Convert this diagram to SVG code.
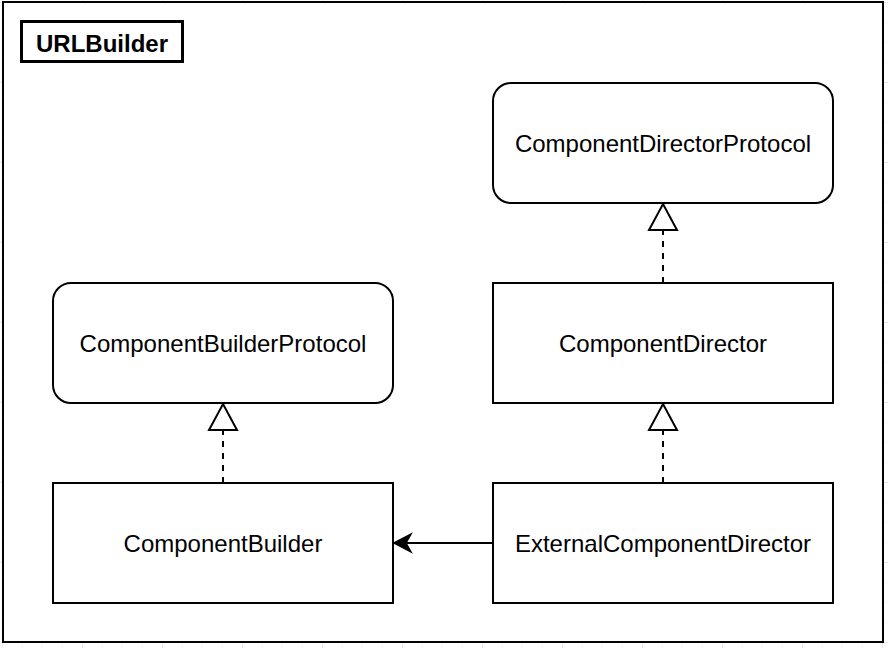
<svg xmlns="http://www.w3.org/2000/svg" width="888" height="648" viewBox="0 0 888 648">
  <defs>
    <pattern id="gridMinor" x="2" y="2" width="20" height="20" patternUnits="userSpaceOnUse">
      <path d="M0,0 H20 M0,0 V20" fill="none" stroke="#efefef" stroke-width="1"/>
    </pattern>
    <pattern id="gridMajor" x="2" y="2" width="80" height="80" patternUnits="userSpaceOnUse">
      <path d="M0,0 H80 M0,0 V80" fill="none" stroke="#dcdcdc" stroke-width="1"/>
    </pattern>
  </defs>
  <style>
    .node { fill: #ffffff; stroke: #000000; stroke-width: 2; }
    .label { font-family: "Liberation Sans", Arial, Helvetica, sans-serif; font-size: 24px; fill: #000000; text-anchor: middle; }
    .title { font-family: "Liberation Sans", Arial, Helvetica, sans-serif; font-size: 24px; font-weight: bold; fill: #000000; text-anchor: middle; }
    .dash { fill: none; stroke: #000000; stroke-width: 2; stroke-dasharray: 6 6; }
    .solid { fill: none; stroke: #000000; stroke-width: 2; }
    .tri { fill: #ffffff; stroke: #000000; stroke-width: 2; stroke-linejoin: miter; }
    .head { fill: #000000; stroke: #000000; stroke-width: 1.5; stroke-linejoin: miter; }
  </style>
  <rect x="0" y="0" width="888" height="648" fill="#ffffff"/>
  <rect x="0" y="0" width="888" height="648" fill="url(#gridMinor)"/>
  <rect x="0" y="0" width="888" height="648" fill="url(#gridMajor)"/>

  <g id="frame">
    <rect x="3" y="2" width="880" height="640" fill="#ffffff" stroke="#000000" stroke-width="2"/>
    <rect x="21.5" y="21.5" width="161" height="40" fill="#ffffff" stroke="#000000" stroke-width="3"/>
    <text class="title" x="102" y="52">URLBuilder</text>
  </g>

  <g id="connectors">
    <line class="dash" x1="663" y1="283" x2="663" y2="230"/>
    <path class="tri" d="M663,204 L677,230 L649,230 Z"/>
    <line class="dash" x1="663" y1="483" x2="663" y2="430"/>
    <path class="tri" d="M663,404 L677,430 L649,430 Z"/>
    <line class="dash" x1="223" y1="483" x2="223" y2="430"/>
    <path class="tri" d="M223,404 L237,430 L209,430 Z"/>
    <line class="solid" x1="493" y1="543" x2="404" y2="543"/>
    <path class="head" d="M394,543 L411,534 L406,543 L411,552 Z"/>
  </g>

  <g id="node-ComponentDirectorProtocol">
    <rect class="node" x="493" y="83" width="340" height="120" rx="18" ry="18"/>
    <text class="label" x="663" y="152">ComponentDirectorProtocol</text>
  </g>
  <g id="node-ComponentBuilderProtocol">
    <rect class="node" x="53" y="283" width="340" height="120" rx="18" ry="18"/>
    <text class="label" x="223" y="352">ComponentBuilderProtocol</text>
  </g>
  <g id="node-ComponentDirector">
    <rect class="node" x="493" y="283" width="340" height="120"/>
    <text class="label" x="663" y="352">ComponentDirector</text>
  </g>
  <g id="node-ComponentBuilder">
    <rect class="node" x="53" y="483" width="340" height="120"/>
    <text class="label" x="223" y="552">ComponentBuilder</text>
  </g>
  <g id="node-ExternalComponentDirector">
    <rect class="node" x="493" y="483" width="340" height="120"/>
    <text class="label" x="663" y="552">ExternalComponentDirector</text>
  </g>
</svg>
